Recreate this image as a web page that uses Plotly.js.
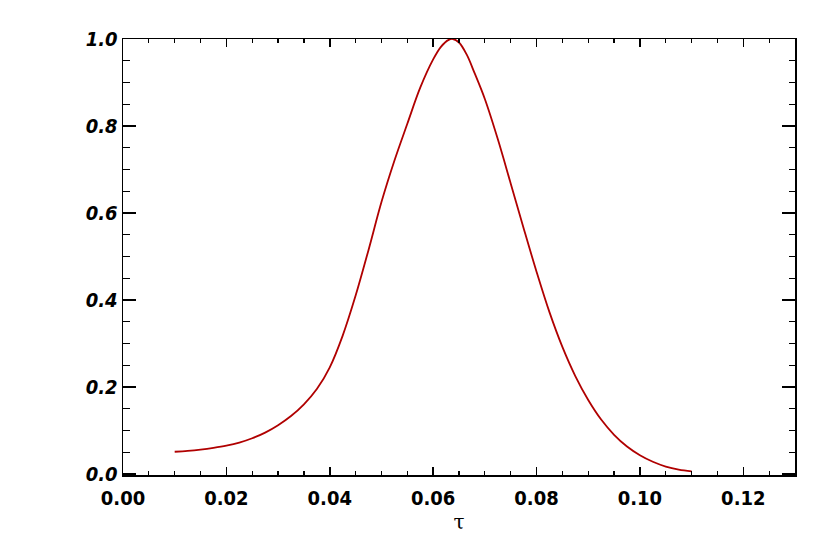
<!DOCTYPE html>
<html>
<head>
<meta charset="utf-8">
<script src="https://cdn.plot.ly/plotly-3.0.1.min.js"></script>
<style>html,body{margin:0;padding:0;background:#fff;}#chart{width:830px;height:554px;}</style>
</head>
<body>
<div id="chart"></div>
<script>
const tau = [0.010,0.0125,0.015,0.0175,0.020,0.0225,0.025,0.0275,0.030,0.0325,0.035,0.0375,0.040,0.0425,0.045,0.0475,0.050,0.0525,0.055,0.0575,0.060,0.0615,0.063,0.0638,0.065,0.0665,0.068,0.070,0.0725,0.075,0.0775,0.080,0.0825,0.085,0.0875,0.090,0.0925,0.095,0.0975,0.100,0.1025,0.105,0.1075,0.110];
const val = [0.051,0.053,0.056,0.060,0.065,0.072,0.082,0.095,0.112,0.133,0.160,0.195,0.245,0.318,0.410,0.515,0.625,0.720,0.805,0.888,0.953,0.982,0.998,1.000,0.992,0.964,0.922,0.862,0.770,0.668,0.565,0.465,0.372,0.292,0.225,0.170,0.125,0.090,0.063,0.043,0.028,0.017,0.010,0.006];
const xTickVals = [0.00,0.02,0.04,0.06,0.08,0.10,0.12];
const xTickText = ['0.00','0.02','0.04','0.06','0.08','0.10','0.12'];
const yTickVals = [0.0,0.2,0.4,0.6,0.8,1.0];
const yTickText = ['0.0','0.2','0.4','0.6','0.8','1.0'];

const fam = '"DejaVu Sans Condensed", "Liberation Sans Narrow", "Liberation Sans", sans-serif';

Plotly.newPlot('chart', [{
  x: tau, y: val, type: 'scatter', mode: 'lines',
  line: {color: '#b00000', width: 1.8, shape: 'spline', smoothing: 1},
  hoverinfo: 'none'
}], {
  width: 830, height: 554,
  margin: {l: 123, r: 35, t: 39, b: 79, pad: 0},
  paper_bgcolor: '#fff', plot_bgcolor: '#fff',
  showlegend: false,
  xaxis: {
    range: [0, 0.13], showgrid: false, zeroline: false,
    showline: true, linecolor: '#000', linewidth: 1.5, mirror: 'ticks',
    ticks: 'inside', ticklen: 8, tickwidth: 1.5, tickcolor: '#000',
    tickvals: xTickVals, ticktext: xTickText, ticklabelstandoff: 4,
    tickfont: {family: fam, size: 20, color: '#000', weight: 'bold'},
    minor: {dtick: 0.005, tick0: 0, ticks: 'inside', ticklen: 4, tickwidth: 1.2, tickcolor: '#000', showgrid: false},
    title: {text: 'τ', font: {family: '"DejaVu Serif", serif', size: 20, color: '#000'}, standoff: 6}
  },
  yaxis: {
    range: [-0.0025, 1.0], showgrid: false, zeroline: false,
    showline: true, linecolor: '#000', linewidth: 1.5, mirror: 'ticks',
    ticks: 'inside', ticklen: 13, tickwidth: 1.5, tickcolor: '#000',
    tickvals: yTickVals, ticktext: yTickText,
    tickfont: {family: fam, size: 20, color: '#000', weight: 'bold', style: 'italic'},
    minor: {dtick: 0.05, tick0: 0, ticks: 'inside', ticklen: 6.5, tickwidth: 1.2, tickcolor: '#000', showgrid: false}
  }
}, {staticPlot: true});
</script>
</body>
</html>
